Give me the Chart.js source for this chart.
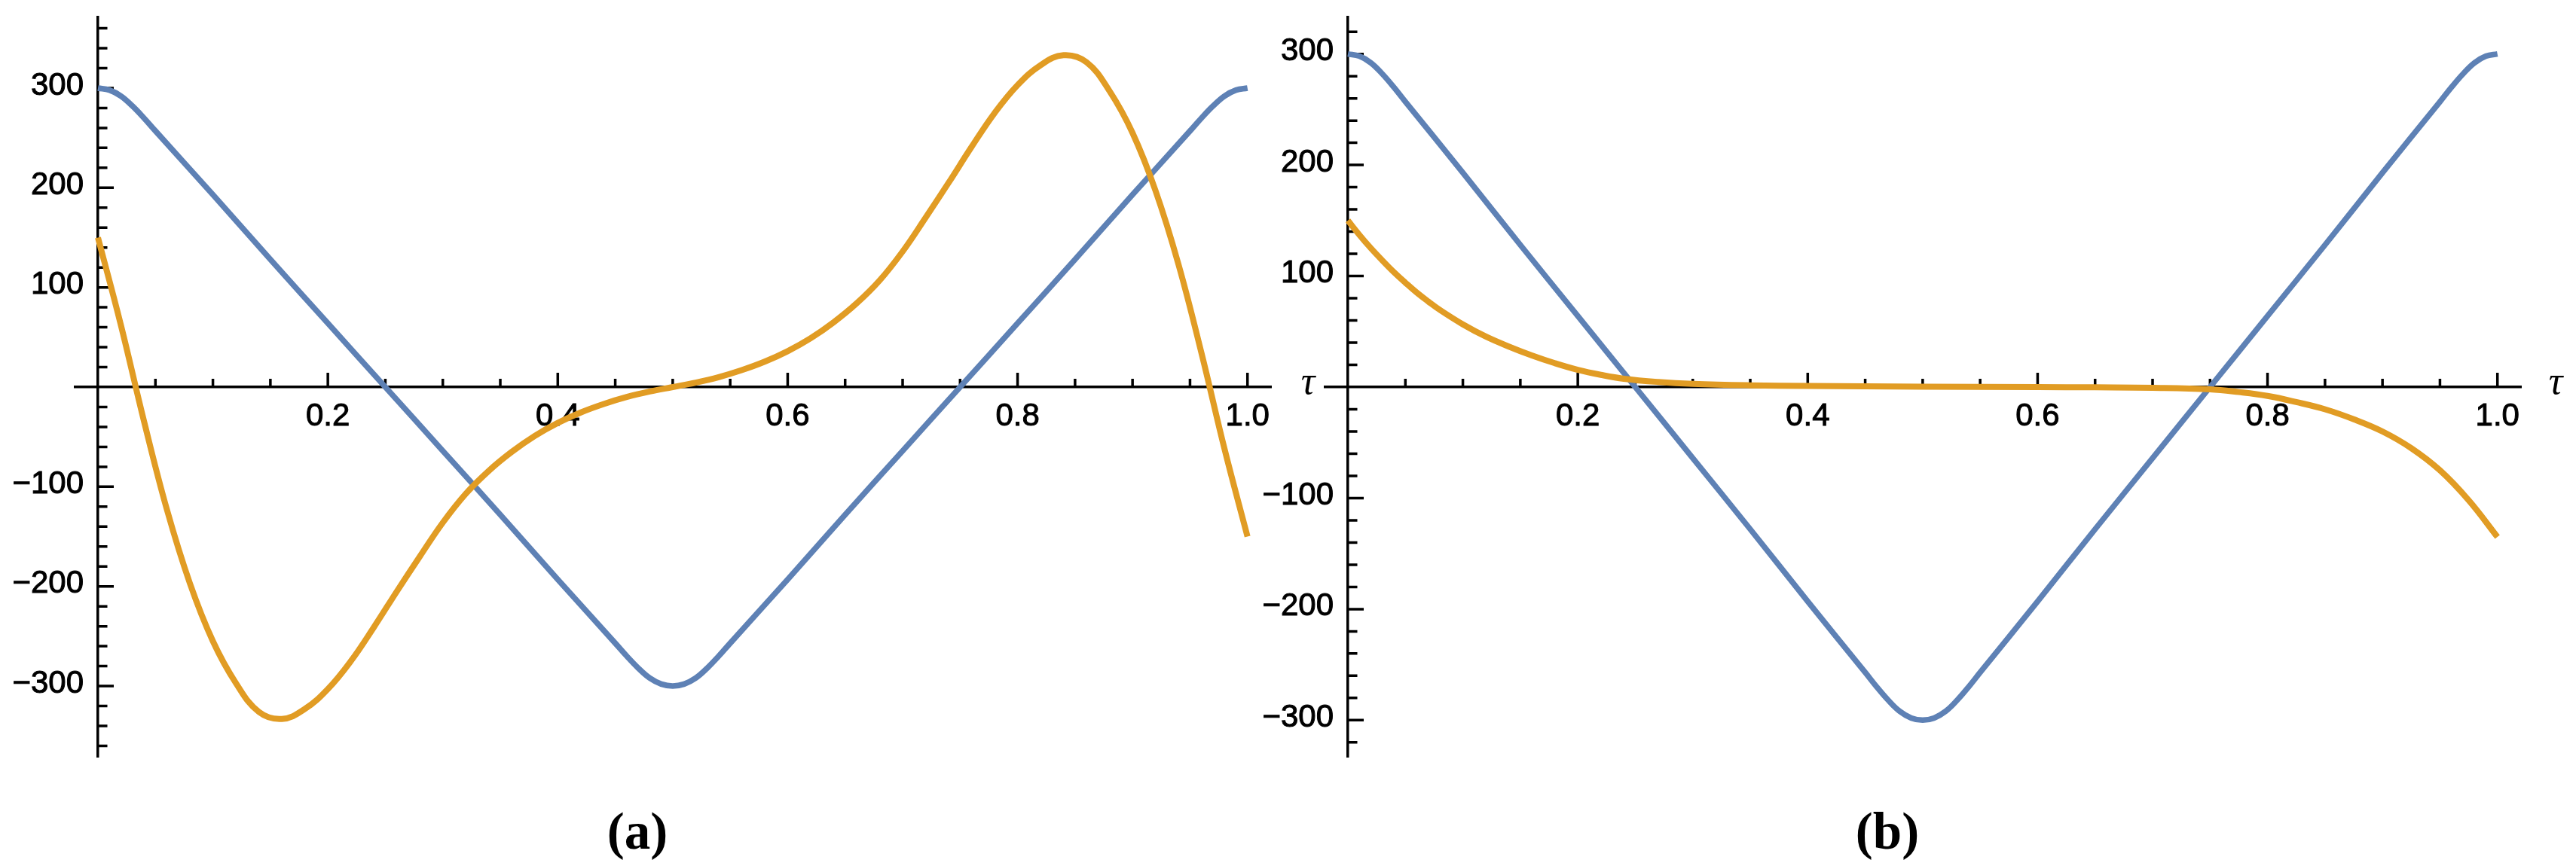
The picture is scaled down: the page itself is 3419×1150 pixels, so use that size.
<!DOCTYPE html>
<html>
<head>
<meta charset="utf-8">
<script src="https://cdn.jsdelivr.net/npm/chart.js@4.4.0/dist/chart.umd.min.js"></script>
<style>
  html, body { margin: 0; padding: 0; background: #ffffff; width: 3419px; height: 1150px; overflow: hidden; position: relative; }
  canvas { position: absolute; top: -100px; }
  .panel { position: absolute; width: 200px; text-align: center; font-family: "Liberation Serif", "DejaVu Serif", serif; font-weight: bold; font-size: 69px; line-height: 69px; color: #000; }
  .tau { position: absolute; width: 60px; text-align: center; font-family: "Liberation Serif", "DejaVu Serif", serif; font-style: italic; font-size: 52px; line-height: 52px; color: #000; }
</style>
</head>
<body>
<canvas id="chartA" width="1760" height="1350" style="left:0px"></canvas>
<canvas id="chartB" width="1819" height="1350" style="left:1600px"></canvas>
<div class="tau" style="left:1706px; top:480px;">τ</div>
<div class="tau" style="left:3362px; top:480px;">τ</div>
<div class="panel" style="left:746px; top:1070px;">(a)</div>
<div class="panel" style="left:2405px; top:1070px;">(b)</div>
<script>
// ---------------- data ----------------
// blue curve (same in both panels)
const tauBlue = [0, 0.01, 0.02, 0.03, 0.04, 0.05, 0.1, 0.15, 0.2, 0.25, 0.3, 0.35, 0.4, 0.45, 0.46, 0.47, 0.48, 0.49, 0.5,
                 0.51, 0.52, 0.53, 0.54, 0.55, 0.6, 0.65, 0.7, 0.75, 0.8, 0.85, 0.9, 0.95, 0.96, 0.97, 0.98, 0.99, 1.0];
const blueValues = [300, 298, 292, 282, 270, 257, 193, 128, 64, 0, -64, -128, -193, -257, -270, -282, -292, -298, -300,
                    -298, -292, -282, -270, -257, -193, -128, -64, 0, 64, 128, 193, 257, 270, 282, 292, 298, 300];

// orange curve, panel (a)
const tauOrangeA = [0, 0.02, 0.04, 0.06, 0.08, 0.10, 0.12, 0.14, 0.16, 0.18, 0.20, 0.22, 0.24, 0.26, 0.28, 0.30, 0.32, 0.34, 0.36, 0.38,
                    0.40, 0.42, 0.44, 0.46, 0.48, 0.50, 0.52, 0.54, 0.56, 0.58, 0.60, 0.62, 0.64, 0.66, 0.68, 0.70, 0.72, 0.74, 0.76, 0.78,
                    0.80, 0.82, 0.84, 0.86, 0.88, 0.90, 0.92, 0.94, 0.96, 0.98, 1.0];
const orangeA = [150, 62, -34, -123, -197, -255, -297, -326, -333, -323, -303, -275, -241, -205, -170, -136, -107, -84, -65, -49,
                 -36, -25.5, -17, -10, -4.5, 0, 4.5, 10, 17, 25.5, 36, 49, 65, 84, 107, 136, 170, 205, 241, 275,
                 303, 323, 333, 326, 297, 255, 197, 123, 34, -62, -150];

// orange curve, panel (b)
const tauOrangeB = [0, 0.01, 0.02, 0.03, 0.04, 0.05, 0.06, 0.07, 0.08, 0.10, 0.12, 0.14, 0.16, 0.18, 0.20, 0.22, 0.24, 0.27, 0.30,
                    0.35, 0.40, 0.50, 0.60, 0.65, 0.70, 0.75, 0.775, 0.80, 0.825, 0.85, 0.875, 0.90, 0.925, 0.95, 0.975, 1.0];
const orangeB = [150, 137, 125, 114, 103.5, 94, 85, 77, 69.5, 56.5, 45.5, 36.5, 28.5, 21.5, 15.5, 11, 7.5, 4.6, 2.9,
                 1.6, 1.0, 0.4, 0, -0.2, -0.6, -2, -4.5, -8, -13.5, -20, -29, -40, -55, -75, -102, -135];

// axis ticks / ranges
const xTickLabels = [0.2, 0.4, 0.6, 0.8, 1.0];
const yTickLabels = [-300, -200, -100, 100, 200, 300];
const xRange = [-0.02, 1.0205];
const yRangeA = [-371, 371];
const yRangeB = [-333, 333];

const BLUE = '#5E81B5';
const ORANGE = '#E19C24';

function pts(xs, ys) { return xs.map((x, i) => ({ x: x, y: ys[i] })); }

const mmaAxes = {
  id: 'mmaAxes',
  beforeDraw(chart) {
    const xs = chart.scales.x, ys = chart.scales.y;
    const x0 = xs.getPixelForValue(0);
    if (typeof ys.getLabelItems === 'function') {
      ys.getLabelItems().forEach(it => { it.options.translation[0] = x0 - 19; it.options.textAlign = 'right'; });
    }
  },
  beforeDatasetsDraw(chart) {
    const ctx = chart.ctx, xs = chart.scales.x, ys = chart.scales.y;
    const x0 = xs.getPixelForValue(0), y0 = ys.getPixelForValue(0);
    ctx.save();
    ctx.strokeStyle = '#000';
    ctx.lineWidth = 3.5;
    ctx.lineCap = 'butt';
    ctx.beginPath();
    for (let i = 1; i <= 20; i++) {
      const v = i * 0.05;
      const px = xs.getPixelForValue(v);
      const len = (i % 4 === 0) ? 19 : 11;
      ctx.moveTo(px, y0);
      ctx.lineTo(px, y0 - len);
    }
    for (let k = -20; k <= 20; k++) {
      const v = k * 20;
      if (v === 0 || v < ys.min || v > ys.max) continue;
      const py = ys.getPixelForValue(v);
      const len = (v % 100 === 0) ? 21 : 12.5;
      ctx.moveTo(x0, py);
      ctx.lineTo(x0 + len, py);
    }
    ctx.stroke();
    ctx.restore();
  }
};

function makeChart(id, orangeX, orangeY, yRange, padLeft) {
  const ctx = document.getElementById(id).getContext('2d');
  return new Chart(ctx, {
    type: 'line',
    data: {
      datasets: [
        { data: pts(orangeX, orangeY), borderColor: ORANGE, borderWidth: 8, pointRadius: 0, fill: false,
          tension: 0.4, borderJoinStyle: 'round' },
        { data: pts(tauBlue, blueValues), borderColor: BLUE, borderWidth: 7.5, pointRadius: 0, fill: false,
          tension: 0.4, borderJoinStyle: 'round' }
      ]
    },
    options: {
      responsive: false,
      animation: false,
      devicePixelRatio: 1,
      layout: { padding: { left: padLeft, right: 73, top: 123, bottom: 245 } },
      plugins: { legend: { display: false }, tooltip: { enabled: false }, title: { display: false } },
      scales: {
        x: {
          type: 'linear', min: xRange[0], max: xRange[1], position: { y: 0 },
          grid: { display: false, drawTicks: false },
          border: { display: true, color: '#000', width: 3.5 },
          afterBuildTicks: s => { s.ticks = xTickLabels.map(v => ({ value: v })); },
          ticks: { autoSkip: false, maxRotation: 0, minRotation: 0, padding: 14, color: '#000',
                   textStrokeColor: '#000', textStrokeWidth: 1,
                   font: { family: 'Liberation Sans', size: 42 },
                   callback: v => Number(v).toFixed(1) }
        },
        y: {
          type: 'linear', min: yRange[0], max: yRange[1], position: { x: 0 },
          grid: { display: false, drawTicks: false },
          border: { display: true, color: '#000', width: 3.5 },
          afterBuildTicks: s => { s.ticks = yTickLabels.map(v => ({ value: v })); },
          ticks: { autoSkip: false, padding: 19, labelOffset: -3, color: '#000',
                   textStrokeColor: '#000', textStrokeWidth: 1,
                   font: { family: 'Liberation Sans', size: 42 },
                   callback: v => (v < 0 ? '\u2212' : '') + Math.abs(v) }
        }
      }
    },
    plugins: [mmaAxes]
  });
}

makeChart('chartA', tauOrangeA, orangeA, yRangeA, 99.5);
makeChart('chartB', tauOrangeB, orangeB, yRangeB, 158.5);
</script>
</body>
</html>
